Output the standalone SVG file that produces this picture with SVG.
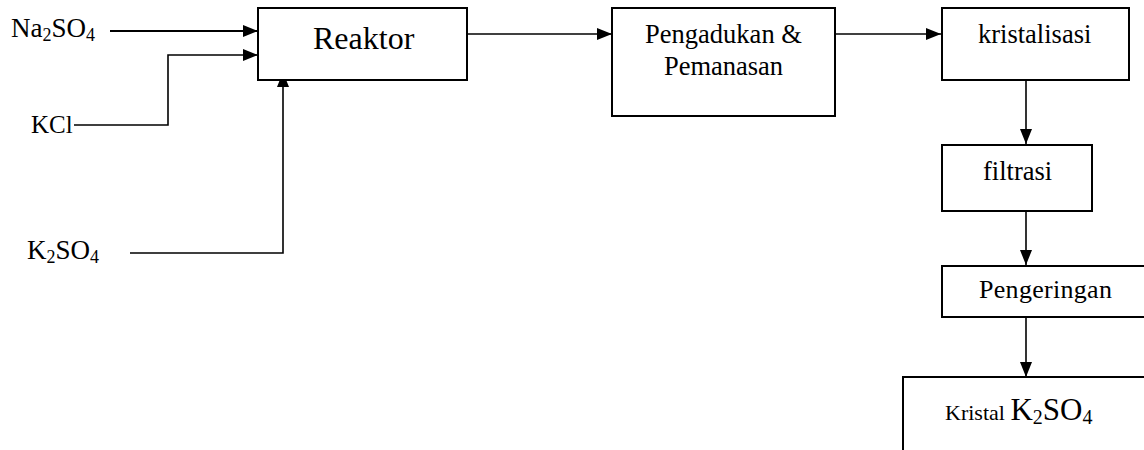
<svg xmlns="http://www.w3.org/2000/svg" width="1144" height="450" viewBox="0 0 1144 450">
<style>
.box{fill:#fff;stroke:#000;stroke-width:2}
.ln{fill:none;stroke:#000;stroke-width:1.6}
.t{font-family:"Liberation Serif","Times New Roman",serif;fill:#000}
</style>
<defs>
<marker id="ah" markerUnits="userSpaceOnUse" markerWidth="16" markerHeight="13" refX="15" refY="6" orient="auto" viewBox="0 0 16 13">
<path d="M0,0 L15,6 L0,12 z" fill="#000"/>
</marker>
</defs>
<rect width="1144" height="450" fill="#fff"/>
<g id="connectors">
<line class="ln" x1="110" y1="31" x2="258" y2="31" marker-end="url(#ah)" style="stroke-width:2.2"/>
<polyline class="ln" points="74,125 168,125 168,55 258,55" marker-end="url(#ah)"/>
<polyline class="ln" points="130,253 283,253 283,72" marker-end="url(#ah)"/>
<line class="ln" x1="467" y1="34" x2="612" y2="34" marker-end="url(#ah)"/>
<line class="ln" x1="835" y1="34" x2="941" y2="34" marker-end="url(#ah)"/>
<line class="ln" x1="1026" y1="80" x2="1026" y2="144" marker-end="url(#ah)"/>
<line class="ln" x1="1026" y1="211" x2="1026" y2="265" marker-end="url(#ah)"/>
<line class="ln" x1="1026" y1="317" x2="1026" y2="377" marker-end="url(#ah)"/>
</g>
<g id="na2so4"><text class="t" x="11" y="37" font-size="27">Na<tspan font-size="18" dy="4">2</tspan><tspan dy="-4">SO</tspan><tspan font-size="18" dy="4">4</tspan></text></g>
<g id="kcl"><text class="t" x="31" y="133" font-size="25">KCl</text></g>
<g id="k2so4"><text class="t" x="27" y="259" font-size="27">K<tspan font-size="18" dy="4">2</tspan><tspan dy="-4">SO</tspan><tspan font-size="18" dy="4">4</tspan></text></g>
<g id="reaktor"><rect class="box" x="258" y="8" width="209" height="72"/><text class="t" x="313" y="49" font-size="32">Reaktor</text></g>
<g id="pengadukan"><rect class="box" x="612" y="8" width="223" height="108"/><text class="t" x="723.5" y="43" font-size="26.5" text-anchor="middle">Pengadukan &amp;</text><text class="t" x="723.5" y="75" font-size="26.5" text-anchor="middle">Pemanasan</text></g>
<g id="kristalisasi"><rect class="box" x="942" y="8" width="187" height="72"/><text class="t" x="978" y="43" font-size="26.5">kristalisasi</text></g>
<g id="filtrasi"><rect class="box" x="942" y="145" width="150" height="66"/><text class="t" x="983" y="180" font-size="26.5">filtrasi</text></g>
<g id="pengeringan"><rect class="box" x="942" y="266" width="260" height="51"/><text class="t" x="979" y="298" font-size="26" letter-spacing="0.3">Pengeringan</text></g>
<g id="kristal"><rect class="box" x="903" y="377" width="300" height="100"/><text class="t" x="945" y="420" font-size="22">Kristal <tspan font-size="31">K</tspan><tspan font-size="20" dy="4">2</tspan><tspan font-size="31" dy="-4">SO</tspan><tspan font-size="20" dy="4">4</tspan></text></g>
</svg>
